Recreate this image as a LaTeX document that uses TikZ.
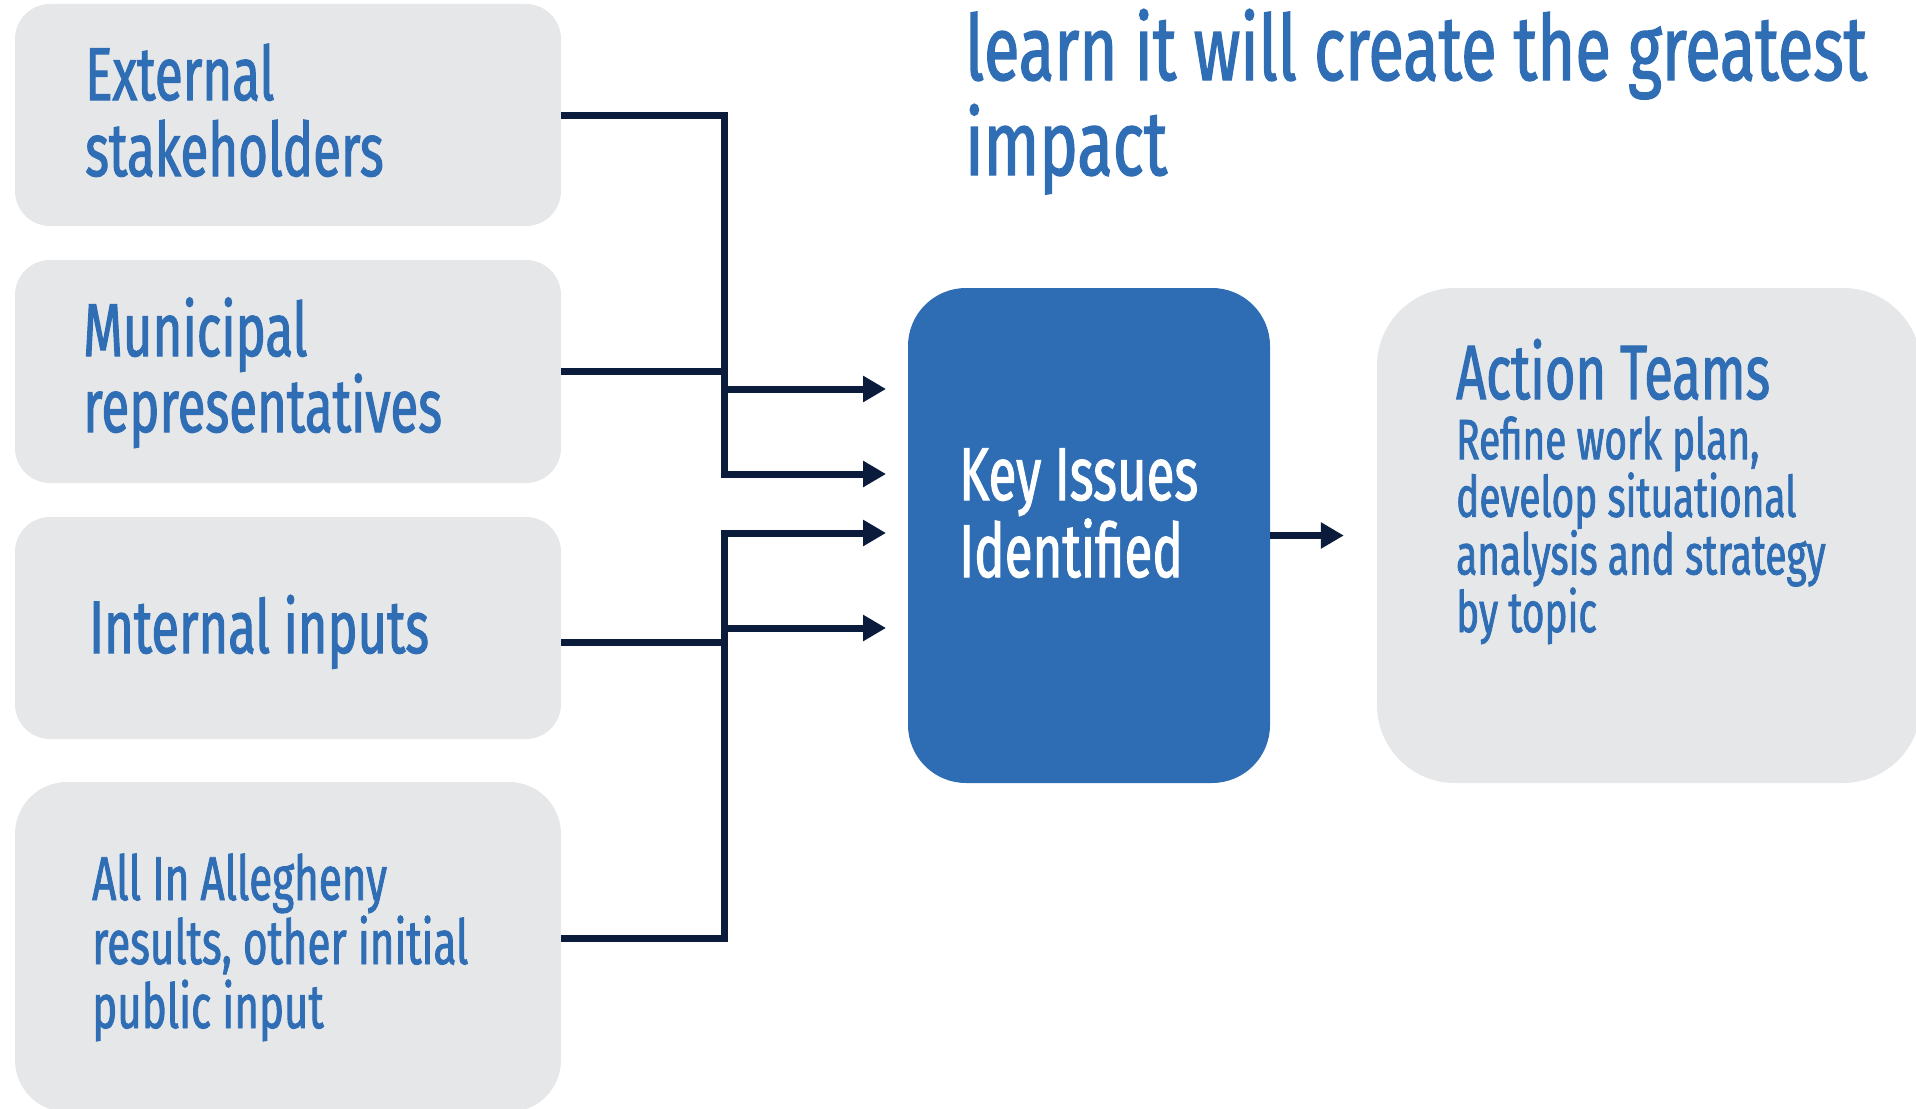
\documentclass[tikz,border=0pt]{standalone}
\usepackage{fontspec}
\newfontfamily\osw[FakeStretch=0.68, FakeBold=1.4]{Fira Sans}
\newfontfamily\oswT[FakeStretch=0.715, FakeBold=1.4]{Fira Sans}
\usetikzlibrary{arrows.meta}
\definecolor{boxgray}{HTML}{E6E7E9}
\definecolor{keyblue}{HTML}{2E6DB4}
\definecolor{txtblue}{HTML}{2F6EB5}
\definecolor{navy}{HTML}{0B1B3B}
\newcommand{\fs}[2]{\fontsize{#1}{#2}\selectfont\lineskiplimit=-100pt\relax}
\begin{document}
\begin{tikzpicture}[x=1pt,y=-1pt,
  gbox/.style={fill=boxgray, draw=none, inner sep=0pt},
  lbl/.style={text=txtblue, anchor=base west, align=left, inner sep=0pt},
  conn/.style={draw=navy, line width=7pt},
  arr/.style={conn, -{Triangle[length=23pt,width=25pt]}}]
\useasboundingbox (0,0) rectangle (1916,1108);
\clip (0,0) rectangle (1916,1108);
% boxes
\node[gbox, rounded corners=35pt, minimum width=546pt, minimum height=222pt] (b1) at (288,115) {};
\node[gbox, rounded corners=35pt, minimum width=546pt, minimum height=223pt] (b2) at (288,371.5) {};
\node[gbox, rounded corners=35pt, minimum width=546pt, minimum height=222pt] (b3) at (288,628) {};
\node[gbox, rounded corners=52pt, minimum width=546pt, minimum height=330pt] (b4) at (288,947) {};
\node[fill=keyblue, rounded corners=58pt, minimum width=362pt, minimum height=495pt, inner sep=0pt] (key) at (1089,535.5) {};
\node[gbox, rounded corners=78pt, minimum width=544pt, minimum height=495pt] (act) at (1649,535.5) {};
% junction coordinates
\coordinate (v) at (724,0);
\coordinate (a1) at (886,389);
\coordinate (a2) at (886,474);
\coordinate (a3) at (886,533);
\coordinate (a4) at (886,628);
% connectors
\draw[arr] (b1.east) -- (b1.east -| v) -- (v |- a2) -- (a2);
\draw[conn] (b2.east) -- (b2.east -| v);
\draw[arr] (v |- a1) -- (a1);
\draw[arr] ([yshift=9pt]b4.east) -- ([yshift=9pt]b4.east -| v) -- (v |- a3) -- (a3);
\draw[conn] ([yshift=-14pt]b3.east) -- ([yshift=-14pt]b3.east -| v);
\draw[arr] (v |- a4) -- (a4);
\draw[arr] (key.east) -- ([xshift=-33pt]act.west);
% texts (anchor at baseline of last line)
\node[lbl, font=\osw\fs{75}{76}] (t1) at (85,176) {External\\stakeholders};
\node[lbl, font=\osw\fs{75}{76}] (t2) at (83,432) {Municipal\\representatives};
\node[lbl, font=\osw\fs{74.5}{76}] (t3) at (89,653) {Internal inputs};
\node[lbl, font=\osw\fs{62}{64}] (t4) at (92,1028) {All In Allegheny\\results, other initial\\public input};
\node[lbl, font=\oswT\fs{91}{95}] (title) at (965,175) {learn it will create the greatest\\impact};
\node[lbl, text=white, font=\osw\fs{75}{77}] (keyt) at (959,577) {Key Issues\\Identified};
\node[lbl, font=\osw\fs{77}{77}] (actt) at (1456,399) {Action Teams};
\node[lbl, font=\osw\fs{57}{57.6}] (acts) at (1456,632) {Refine work plan,\\develop situational\\analysis and strategy\\by topic};
\end{tikzpicture}
\end{document}
